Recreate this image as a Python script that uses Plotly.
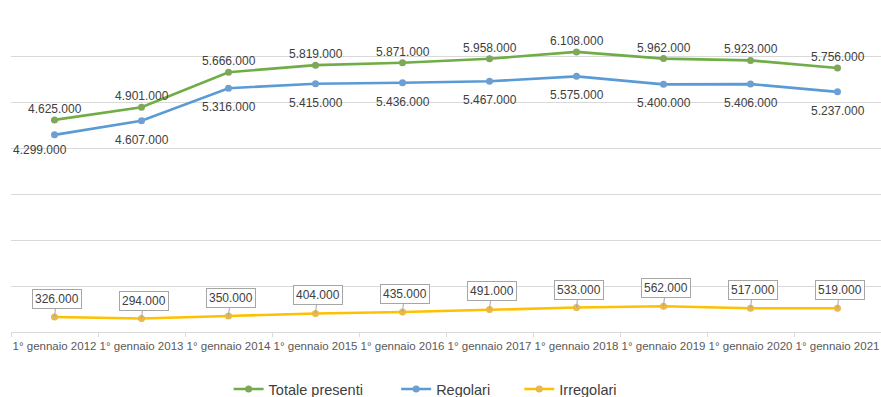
import plotly.graph_objects as go

categories = ["1° gennaio 2012", "1° gennaio 2013", "1° gennaio 2014", "1° gennaio 2015",
              "1° gennaio 2016", "1° gennaio 2017", "1° gennaio 2018", "1° gennaio 2019",
              "1° gennaio 2020", "1° gennaio 2021"]
totale = [4625000, 4901000, 5666000, 5819000, 5871000, 5958000, 6108000, 5962000, 5923000, 5756000]
regolari = [4299000, 4607000, 5316000, 5415000, 5436000, 5467000, 5575000, 5400000, 5406000, 5237000]
irregolari = [326000, 294000, 350000, 404000, 435000, 491000, 533000, 562000, 517000, 519000]

names = ["Totale presenti", "Regolari", "Irregolari"]
colors = ["#70AD47", "#5B9BD5", "#FFC000"]
marker_colors = ["#7FA65A", "#6E9FD0", "#E8B84A"]
legend_pad = [7, 6, 0]

FONT = "Liberation Sans"


def fmt(v):
    return f"{v:,}".replace(",", ".")


fig = go.Figure()
for name, vals, c, mc, pad in zip(names, [totale, regolari, irregolari], colors, marker_colors, legend_pad):
    fig.add_trace(go.Scatter(
        x=categories, y=vals, name=name + "\u00a0" * pad, mode="lines+markers",
        line=dict(color=c, width=2.6),
        marker=dict(size=7, color=mc, line=dict(width=0)),
        hoverinfo="skip",
    ))

annotations = []
for i, (cat, v) in enumerate(zip(categories, totale)):
    annotations.append(dict(x=cat, y=v, text=fmt(v), showarrow=False, yshift=11,
                            font=dict(family=FONT, size=12, color="#404040")))
for i, (cat, v) in enumerate(zip(categories, regolari)):
    xs, ys = (-15, -15) if i == 0 else (0, -19)
    annotations.append(dict(x=cat, y=v, text=fmt(v), showarrow=False, yshift=ys, xshift=xs,
                            font=dict(family=FONT, size=12, color="#404040")))
for i, (cat, v) in enumerate(zip(categories, irregolari)):
    annotations.append(dict(x=cat, y=v, text=fmt(v), showarrow=True, arrowhead=0,
                            arrowcolor="#A6A6A6", arrowwidth=1, ax=2, ay=-18,
                            bordercolor="#A6A6A6", borderwidth=1, borderpad=2,
                            bgcolor="white",
                            font=dict(family=FONT, size=12, color="#404040")))

fig.update_layout(
    width=881, height=397,
    margin=dict(l=11, r=0, t=11, b=65, autoexpand=False),
    paper_bgcolor="white", plot_bgcolor="white",
    font=dict(family=FONT, color="#595959"),
    showlegend=True,
    legend=dict(orientation="h", x=0.476, xanchor="center", y=-0.178, yanchor="middle",
                font=dict(family=FONT, size=14.5, color="#404040"),
                itemwidth=30, tracegroupgap=0),
    annotations=annotations,
    xaxis=dict(type="category", showgrid=False, showline=True, linecolor="#D9D9D9",
               ticks="outside", tickson="boundaries", ticklen=4, tickcolor="#D9D9D9",
               tickangle=0, automargin=False, ticklabelstandoff=3,
               tickfont=dict(family=FONT, size=11.5, color="#595959"),
               range=[-0.5, 9.5], fixedrange=True),
    yaxis=dict(range=[0, 7000000], dtick=1000000, showgrid=True, gridcolor="#D9D9D9",
               gridwidth=1, showticklabels=False, zeroline=False, showline=False,
               automargin=False, fixedrange=True),
)

fig.write_html("out.html")
